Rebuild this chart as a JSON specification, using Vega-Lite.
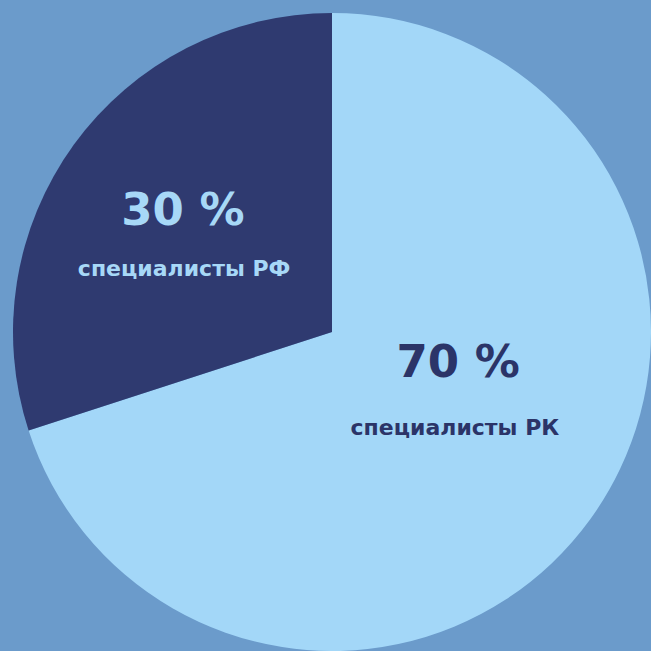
{
  "$schema": "https://vega.github.io/schema/vega-lite/v6.json",
  "autosize": {"type": "fit", "contains": "padding"},
  "width": 651,
  "height": 651,
  "padding": {"left": 13, "top": 13, "right": 0, "bottom": 0},
  "background": "#6b9bcb",
  "config": {"view": {"stroke": null}},
  "layer": [
    {
      "data": {"values": [
        {"group": "специалисты РК", "value": 70},
        {"group": "специалисты РФ", "value": 30}
      ]},
      "mark": {"type": "arc", "stroke": null},
      "encoding": {
        "theta": {"field": "value", "type": "quantitative", "stack": true},
        "order": {"field": "value", "type": "quantitative", "sort": "descending"},
        "color": {"field": "group", "type": "nominal", "legend": null,
          "scale": {"domain": ["специалисты РК", "специалисты РФ"], "range": ["#a3d7f8", "#2f3a70"]}}
      }
    },
    {
      "data": {"values": [
        {"label": "30 %", "angle": 309.1, "r": 0.602, "size": 45, "tone": "light"},
        {"label": "специалисты РФ", "angle": 293.1, "r": 0.504, "size": 22, "tone": "light"},
        {"label": "70 %", "angle": 103.8, "r": 0.407, "size": 45, "tone": "dark"},
        {"label": "специалисты РК", "angle": 128.0, "r": 0.489, "size": 22, "tone": "dark"}
      ]},
      "mark": {"type": "text", "font": "DejaVu Sans", "fontWeight": "bold", "baseline": "middle", "align": "center"},
      "encoding": {
        "theta": {"field": "angle", "type": "quantitative", "stack": null, "scale": {"domain": [0, 360], "range": [0, 6.283185307179586]}},
        "radius": {"field": "r", "type": "quantitative", "scale": {"type": "linear", "domain": [0, 1], "range": [0, 319], "zero": true}},
        "text": {"field": "label", "type": "nominal"},
        "size": {"field": "size", "type": "quantitative", "scale": null, "legend": null},
        "color": {"field": "tone", "type": "nominal", "legend": null, "scale": {"domain": ["light", "dark"], "range": ["#a7d8f7", "#2b3468"]}}
      }
    }
  ],
  "resolve": {"scale": {"theta": "independent", "radius": "independent", "color": "independent"}}
}
